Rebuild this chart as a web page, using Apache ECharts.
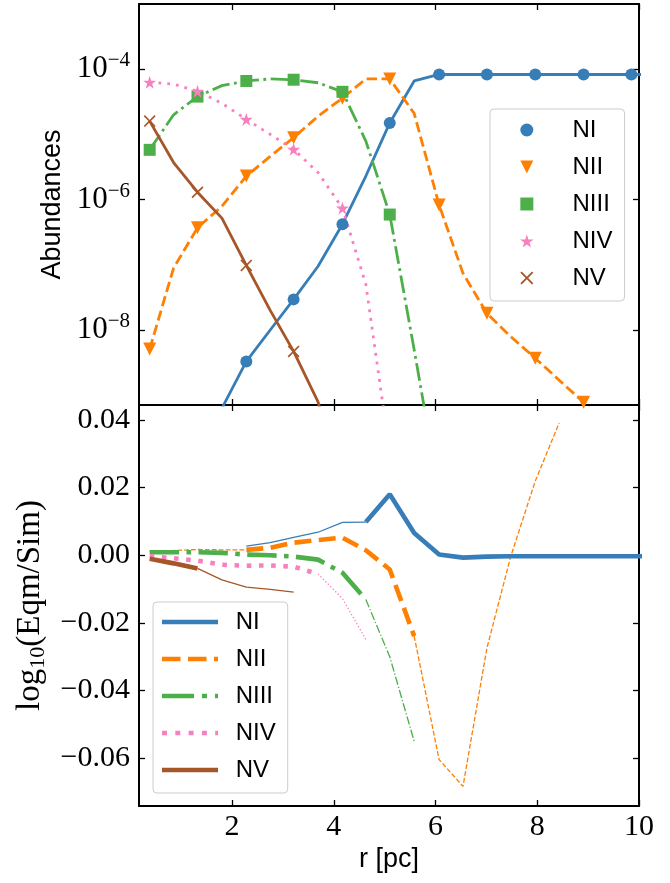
<!DOCTYPE html>
<html>
<head>
<meta charset="utf-8">
<script src="https://cdn.jsdelivr.net/npm/echarts@6/dist/echarts.min.js"></script>
<style>html,body{margin:0;padding:0;background:#fff}#c{width:670px;height:883px}</style>
</head>
<body>
<div id="c"></div>
<script>
// radial grid (pc)
const r = [0.38, 0.85, 1.32, 1.80, 2.28, 2.75, 3.21, 3.69, 4.17, 4.63, 5.10, 5.58, 6.07, 6.54, 7.01, 7.48, 7.96, 8.43, 8.91, 9.38, 9.85, 10.32];

// abundances (top panel)
const NI_abund   = [3.2e-13, 5.0e-12, 6.3e-11, 6.3e-10, 3.3e-9, 1.0e-8, 2.95e-8, 9.5e-8, 4.2e-7, 2.3e-6, 1.5e-5, 6.6e-5, 8.3e-5, 8.3e-5, 8.3e-5, 8.3e-5, 8.3e-5, 8.3e-5, 8.3e-5, 8.3e-5, 8.3e-5, 8.3e-5];
const NII_abund  = [5.1e-9, 8.9e-8, 3.7e-7, 7.9e-7, 2.3e-6, 4.6e-6, 8.9e-6, 1.9e-5, 3.6e-5, 7.1e-5, 7.1e-5, 2.1e-5, 8.3e-7, 7.4e-8, 1.8e-8, 7.9e-9, 3.7e-9, 1.7e-9, 7.8e-10, 3.2e-10, 1.0e-10, 3.2e-11];
const NIII_abund = [5.8e-6, 2.0e-5, 3.8e-5, 5.6e-5, 6.6e-5, 7.1e-5, 6.9e-5, 6.2e-5, 4.5e-5, 7.9e-6, 5.9e-7, 5.0e-9, 3.2e-11];
const NIV_abund  = [6.3e-5, 5.9e-5, 4.6e-5, 3.0e-5, 1.7e-5, 1.0e-5, 5.9e-6, 2.6e-6, 7.4e-7, 5.0e-8, 1.3e-10, 1.0e-13];
const NV_abund   = [1.6e-5, 3.7e-6, 1.3e-6, 5.2e-7, 9.8e-8, 2.0e-8, 4.7e-9, 7.9e-10, 3.2e-11];

// log10(Eqm/Sim) (bottom panel)
const NI_ratio   = [null, null, null, null, 0.0027, 0.0037, 0.0053, 0.0068, 0.0097, 0.0098, 0.0180, 0.0066, 0.0002, -0.0007, -0.0004, -0.0003, -0.0003, -0.0003, -0.0003, -0.0003, -0.0003, -0.0003];
const NII_ratio  = [0.0012, 0.0014, 0.0017, 0.0016, 0.0016, 0.0022, 0.0037, 0.0045, 0.0052, 0.0015, -0.0042, -0.0239, -0.0604, -0.0683, -0.0274, -0.0003, 0.0219, 0.0391];
const NIII_ratio = [0.0009, 0.0009, 0.0009, 0.0007, 0.0002, 0.0000, -0.0004, -0.0013, -0.0052, -0.0131, -0.0300, -0.0550];
const NIV_ratio  = [-0.0003, -0.0009, -0.0016, -0.0028, -0.0031, -0.0030, -0.0034, -0.0055, -0.0128, -0.0249];
const NV_ratio   = [-0.0010, -0.0024, -0.0039, -0.0073, -0.0094, -0.0101, -0.0109];

const ions = ['NI', 'NII', 'NIII', 'NIV', 'NV'];
const xTicks = [2, 4, 6, 8, 10];
const yTicksTopExp = [-8, -6, -4];          // decades labelled 10^n
const yTicksBottom = [-0.06, -0.04, -0.02, 0.00, 0.02, 0.04];

const col = {NI:'#377eb8', NII:'#ff7f00', NIII:'#4daf4a', NIV:'#f781bf', NV:'#a65628'};
const SERIF = '"Liberation Serif", "DejaVu Serif", serif';
const SANS = '"Liberation Sans", "DejaVu Sans", sans-serif';

const markers = {
  NI: 'circle',
  NII: 'path://M0,0L10,0L5,10Z',
  NIII: 'path://M0,0L10,0L10,10L0,10Z',
  NIV: 'path://M5,0L6.123,3.455L9.755,3.455L6.817,5.59L7.939,9.045L5,6.91L2.061,9.045L3.183,5.59L0.245,3.455L3.877,3.455Z',
  NV: 'path://M0,1L1,0L5,4L9,0L10,1L6,5L10,9L9,10L5,6L1,10L0,9L4,5Z'
};
const markerSize = {NI: 12, NII: 13, NIII: 12, NIV: 13, NV: 12};
const topDash = {NI: 'solid', NII: [10.4, 4.5], NIII: [17.9, 4.5, 2.8, 4.5], NIV: [2.8, 6], NV: 'solid'};
const thickDash = {NI: 'solid', NII: [17, 7.4], NIII: [29.4, 7.4, 4.6, 7.4], NIV: [4.6, 7.6], NV: 'solid'};
const thinDash = {NI: 'solid', NII: [4.8, 2.1], NIII: [8.3, 2.1, 1.3, 2.1], NIV: [1.3, 2.2], NV: 'solid'};
const legendLine = {
  NI: 'path://M0,0L56,0L56,4.6L0,4.6Z',
  NII: 'path://M0,0L18.5,0L18.5,4.6L0,4.6Z M26,0L44.5,0L44.5,4.6L26,4.6Z M52,0L56,0L56,4.6L52,4.6Z',
  NIII: 'path://M0,0L32,0L32,4.6L0,4.6Z M40,0L45,0L45,4.6L40,4.6Z M53,0L56,0L56,4.6L53,4.6Z',
  NIV: 'path://M0,0L5,0L5,4.6L0,4.6Z M13.3,0L18.3,0L18.3,4.6L13.3,4.6Z M26.6,0L31.6,0L31.6,4.6L26.6,4.6Z M39.9,0L44.9,0L44.9,4.6L39.9,4.6Z M53.2,0L56,0L56,4.6L53.2,4.6Z',
  NV: 'path://M0,0L56,0L56,4.6L0,4.6Z'
};

const abund = {NI: NI_abund, NII: NII_abund, NIII: NIII_abund, NIV: NIV_abund, NV: NV_abund};
const ratio = {NI: NI_ratio, NII: NII_ratio, NIII: NIII_ratio, NIV: NIV_ratio, NV: NV_ratio};
// index ranges drawn thick / thin in the bottom panel
const segs = {
  NI:   [[4, 9, 'thin'], [9, 21, 'thick']],
  NII:  [[0, 4, 'thin'], [4, 11, 'thick'], [11, 17, 'thin']],
  NIII: [[0, 9, 'thick'], [9, 11, 'thin']],
  NIV:  [[0, 7, 'thick'], [7, 9, 'thin']],
  NV:   [[0, 2, 'thick'], [2, 6, 'thin']]
};

const series = [];
ions.forEach(ion => {
  const vals = abund[ion];
  const size = markerSize[ion];
  series.push({
    type: 'line', name: ion, xAxisIndex: 0, yAxisIndex: 0,
    // top axis is logarithmic in abundance: plotted on log10 scale
    data: vals.map((v, i) => [r[i], Math.log10(v)]),
    symbol: markers[ion],
    symbolSize: (val, p) => (p.dataIndex % 2 === 0 ? size : 0),
    showAllSymbol: true,
    lineStyle: {color: col[ion], width: 2.8, type: topDash[ion]},
    itemStyle: {color: col[ion], borderWidth: 0},
    clip: true, silent: true, animation: false
  });
});
ions.forEach(ion => {
  segs[ion].forEach(([a, b, kind]) => {
    const data = [];
    for (let i = a; i <= b; i++) if (ratio[ion][i] != null) data.push([r[i], ratio[ion][i]]);
    series.push({
      type: 'line', name: ion + (kind === 'thick' ? '_b' : '_t'), xAxisIndex: 2, yAxisIndex: 2,
      data, symbol: 'none',
      lineStyle: {color: col[ion], width: kind === 'thick' ? 4.6 : 1.3, type: kind === 'thick' ? thickDash[ion] : thinDash[ion]},
      itemStyle: {color: col[ion]},
      clip: true, silent: true, animation: false, z: kind === 'thick' ? 3 : 2
    });
  });
});

const tickStyle = {show: true, inside: true, length: 6, lineStyle: {color: '#000', width: 1.3}};
const axisLineStyle = {show: true, onZero: false, lineStyle: {color: '#000', width: 2}};

function xAx(grid, pos, labels) {
  return {
    type: 'value', gridIndex: grid, position: pos, min: 0.17, max: 10,
    axisLine: axisLineStyle,
    axisTick: Object.assign({customValues: xTicks}, tickStyle),
    axisLabel: {show: labels, customValues: xTicks, margin: 6, color: '#000', fontFamily: SERIF, fontSize: 30},
    splitLine: {show: false},
    name: labels ? 'r [pc]' : '', nameLocation: 'middle', nameGap: 40,
    nameTextStyle: {color: '#000', fontFamily: SANS, fontSize: 27}
  };
}
function yLog(pos, labels) {
  return {
    type: 'value', gridIndex: 0, position: pos, min: -9.15, max: -3,
    axisLine: axisLineStyle,
    axisTick: Object.assign({customValues: yTicksTopExp}, tickStyle),
    axisLabel: {
      show: labels, customValues: yTicksTopExp, margin: 9, color: '#000',
      formatter: v => '{b|10}{s|' + (v < 0 ? '\u2212' : '') + Math.abs(Math.round(v)) + '}',
      rich: {
        b: {fontFamily: SERIF, fontSize: 31, lineHeight: 38, color: '#000'},
        s: {fontFamily: SERIF, fontSize: 21, lineHeight: 15, verticalAlign: 'top', color: '#000'}
      }
    },
    splitLine: {show: false},
    name: labels ? 'Abundances' : '', nameLocation: 'middle', nameGap: 72,
    nameTextStyle: {color: '#000', fontFamily: SANS, fontSize: 27}
  };
}
function yLin(pos, labels) {
  return {
    type: 'value', gridIndex: 1, position: pos, min: -0.0741, max: 0.0444,
    axisLine: axisLineStyle,
    axisTick: Object.assign({customValues: yTicksBottom}, tickStyle),
    axisLabel: {
      show: labels, customValues: yTicksBottom, margin: 9, color: '#000', fontFamily: SERIF, fontSize: 30,
      formatter: v => (v < -1e-9 ? '\u2212' : '') + Math.abs(v).toFixed(2)
    },
    splitLine: {show: false},
    name: labels ? '{m|log}{sub|10}{m|(Eqm/Sim)}' : '', nameLocation: 'middle', nameGap: 90,
    nameTextStyle: {
      color: '#000',
      rich: {
        m: {fontFamily: SERIF, fontSize: 33, lineHeight: 38, color: '#000'},
        sub: {fontFamily: SERIF, fontSize: 22, lineHeight: 22, verticalAlign: 'bottom', color: '#000'}
      }
    }
  };
}

const legendCommon = {
  orient: 'vertical', selectedMode: false, itemWidth: 56,
  itemGap: 13, symbolKeepAspect: true,
  backgroundColor: 'rgba(255,255,255,0.8)', borderColor: '#cccccc', borderWidth: 1, borderRadius: 4,
  itemStyle: {borderWidth: 0},
  formatter: n => '{t|' + n.split('_')[0] + '}',
  textStyle: {rich: {t: {fontFamily: SANS, fontSize: 24, lineHeight: 24, color: '#000', padding: [0, 0, 0, 12.7]}}}
};

const option = {
  backgroundColor: '#fff',
  animation: false,
  grid: [
    {left: 139, top: 4, width: 500, height: 401},
    {left: 139, top: 405, width: 500, height: 401}
  ],
  xAxis: [xAx(0, 'bottom', false), xAx(0, 'top', false), xAx(1, 'bottom', true), xAx(1, 'top', false)],
  yAxis: [yLog('left', true), yLog('right', false), yLin('left', true), yLin('right', false)],
  legend: [
    Object.assign({}, legendCommon, {
      left: 490, top: 109, itemHeight: 13, padding: [9, 12, 11, 30],
      data: ions.map(n => ({name: n, icon: markers[n]}))
    }),
    Object.assign({}, legendCommon, {
      left: 153, top: 602, itemHeight: 4.6, padding: [8, 12, 11, 9],
      data: ions.map(n => ({name: n + '_b', icon: legendLine[n]}))
    })
  ],
  series
};

const chart = echarts.init(document.getElementById('c'), null, {renderer: 'canvas'});
chart.setOption(option);
</script>
</body>
</html>
